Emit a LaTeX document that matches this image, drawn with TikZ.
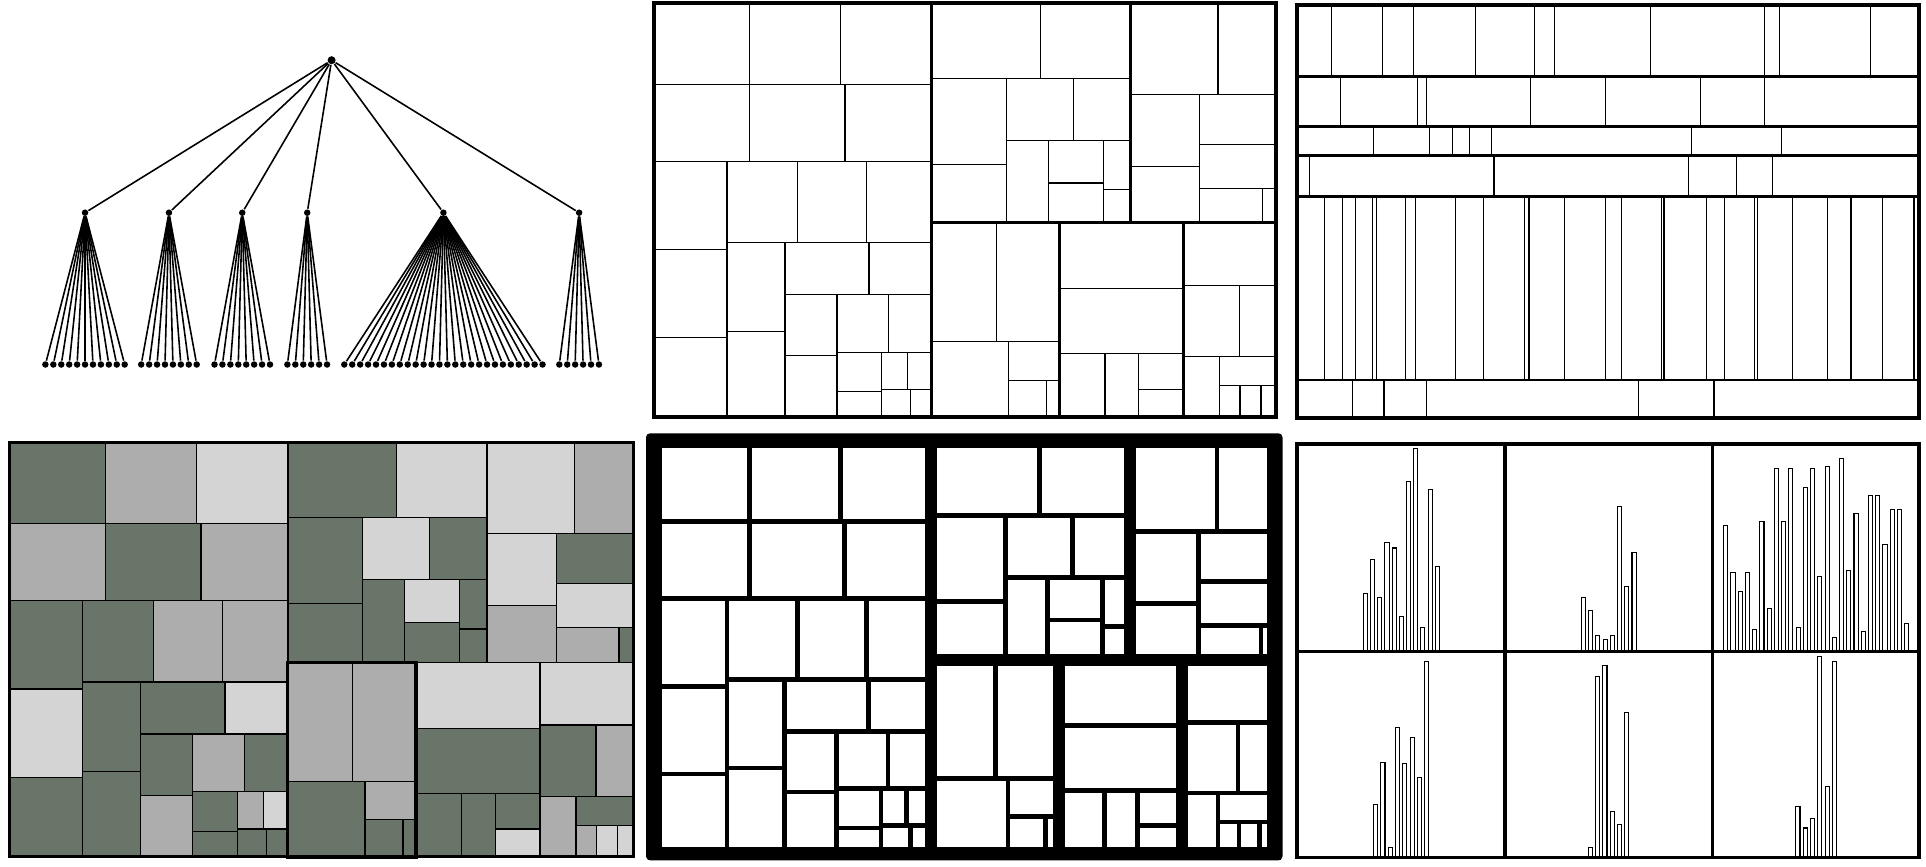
\documentclass[tikz,border=0pt]{standalone}
\usepackage{tikz}
\usetikzlibrary{calc}
\definecolor{tmdark}{HTML}{6A7569}
\definecolor{tmmid}{HTML}{ADADAD}
\definecolor{tmlight}{HTML}{D4D4D4}
% shared treemap layout, in percent of the box (x right, y down)
\newcommand\tmcells{0/0/15.35/19.6/tmdark, 15.35/0/30/19.6/tmmid, 30/0/44.65/19.6/tmlight,
  0/19.6/15.35/38.2/tmmid, 15.35/19.6/30.7/38.2/tmdark, 30.7/19.6/44.65/38.2/tmmid,
  0/38.2/11.75/59.5/tmdark, 0/59.5/11.75/80.75/tmlight, 0/80.75/11.75/100/tmdark,
  11.75/38.2/23.05/57.8/tmdark, 23.05/38.2/34.2/57.8/tmmid, 34.2/38.2/44.65/57.8/tmmid,
  11.75/57.8/21.05/79.3/tmdark, 11.75/79.3/21.05/100/tmdark,
  21.05/57.8/34.55/70.35/tmdark, 34.55/57.8/44.65/70.35/tmlight,
  21.05/70.35/29.4/85.1/tmdark, 21.05/85.1/29.4/100/tmmid,
  29.4/70.35/37.7/84.3/tmmid, 37.7/70.35/44.65/84.3/tmdark,
  29.4/84.3/36.55/93.8/tmdark, 29.4/93.8/36.55/100/tmdark,
  36.55/84.3/40.7/93.25/tmmid, 40.7/84.3/44.65/93.25/tmlight,
  36.55/93.25/41.25/100/tmdark, 41.25/93.25/44.65/100/tmdark,
  44.65/0/62.1/18.15/tmdark, 62.1/0/76.65/18.15/tmlight,
  44.65/18.15/56.65/38.95/tmdark, 44.65/38.95/56.65/53.1/tmdark,
  56.65/18.15/67.4/33.15/tmlight, 67.4/18.15/76.65/33.15/tmdark,
  56.65/33.15/63.4/53.1/tmdark, 63.4/33.15/72.2/43.45/tmlight, 63.4/43.45/72.2/53.1/tmdark,
  72.2/33.15/76.65/45/tmdark, 72.2/45/76.65/53.1/tmdark,
  76.65/0/90.65/22/tmlight, 90.65/0/100/22/tmmid,
  76.65/22/87.7/39.4/tmlight, 76.65/39.4/87.7/53.1/tmmid,
  87.7/22/100/34.1/tmdark, 87.7/34.1/100/44.7/tmlight,
  87.7/44.7/97.75/53.1/tmmid, 97.75/44.7/100/53.1/tmdark,
  44.65/53.1/55/81.8/tmmid, 55/53.1/65.2/81.8/tmmid, 44.65/81.8/57/100/tmdark,
  57/81.8/65.2/91.05/tmmid, 57/91.05/63.1/100/tmdark, 63.1/91.05/65.2/100/tmdark,
  65.2/53.1/85.1/69/tmlight, 65.2/69/85.1/84.65/tmdark,
  65.2/84.65/72.5/100/tmdark, 72.5/84.65/77.9/100/tmdark,
  77.9/84.65/85.1/93.25/tmdark, 77.9/93.25/85.1/100/tmlight,
  85.1/53.1/100/68.2/tmlight, 85.1/68.2/94.05/85.35/tmdark, 94.05/68.2/100/85.35/tmmid,
  85.1/85.35/90.85/100/tmmid, 90.85/85.35/100/92.35/tmdark,
  90.85/92.35/94.2/100/tmmid, 94.2/92.35/97.55/100/tmlight, 97.55/92.35/100/100/tmlight}
\newcommand\tmgroups{0/0/44.65/100, 44.65/0/76.65/53.1, 76.65/0/100/53.1,
  44.65/53.1/65.2/100, 65.2/53.1/85.1/100, 85.1/53.1/100/100}

\begin{document}
\begin{tikzpicture}[x=0.01cm,y=-0.01cm,
  dot/.style={circle,fill=black,inner sep=0pt,minimum size=0.65mm},
  edge/.style={line width=0.45pt},
  leafln/.style={line width=0.35pt},
  rowln/.style={line width=0.75pt},
  boldln/.style={line width=0.55pt},
  frameln/.style={line width=1.1pt},
  barln/.style={line width=0.3pt,fill=white}]
\path[use as bounding box] (0,0) rectangle (1926,866);
\fill[white] (0,0) rectangle (1926,866);

% tree: root, six children, leaves
\node[dot,minimum size=0.8mm] (root) at (331.6,60.2) {};
\foreach \s/\n [count=\g] in {45.4/11,141.2/8,214.5/8,287.4/6,344.3/26,559.3/6} {
  \node[dot] (c\g) at ({\s+(\n-1)*3.965},212.7) {};
  \draw[edge] (root) -- (c\g);
  \foreach \i in {1,...,\n} {
    \node[dot] (l\g-\i) at ({\s+(\i-1)*7.93},364.5) {};
    \draw[edge] (c\g) -- (l\g-\i);
  }
}

% top middle: plain treemap
\begin{scope}[shift={(654,3)},x=0.06218cm,y=-0.0414cm]
  \foreach \xa/\ya/\xb/\yb/\tone in \tmcells \draw[leafln] (\xa,\ya) rectangle (\xb,\yb);
  \foreach \xa/\ya/\xb/\yb in \tmgroups \draw[line width=0.85pt] (\xa,\ya) rectangle (\xb,\yb);
  \draw[frameln] (0,0) rectangle (100,100);
\end{scope}

% top right: slice and dice
\foreach \ya/\yb/\xs in {5/76.3/{1331.3,1382.3,1413.3,1475.3,1534.3,1554.3,1650.3,1764.3,1779.3,1870.3},
  76.3/126.3/{1340.3,1417.7,1426.3,1530.3,1605.3,1700.3,1764.3},
  126.3/155.7/{1373.3,1429.3,1452.3,1469.3,1491.3,1691.3,1781.3},
  155.7/196.3/{1309.3,1688.3,1736.3,1772.3},
  196.3/380/{1324.3,1342.3,1355.3,1372.3,1376.5,1405.3,1415.3,1455.3,1483.3,1524.7,1529,1564.3,1605.3,1621.3,1661.3,1664,1706.3,1724.3,1754.7,1757.7,1792.3,1827.3,1882.3,1914},
  380/418.3/{1352.3,1426.3,1638.3}}
  \foreach \x in \xs \draw[leafln] (\x,\ya) -- (\x,\yb);
\foreach \ya/\yb/\x in {155.7/196.3/1493.7,196.3/380/1851,380/418.3/1383.7,380/418.3/1714}
  \draw[boldln] (\x,\ya) -- (\x,\yb);
\foreach \y in {76.3,126.3,155.7,196.3,380} \draw[rowln] (1296.8,\y) -- (1919,\y);
\draw[frameln] (1296.8,5) rectangle (1919,418.3);

% bottom left: coloured treemap
\begin{scope}[shift={(9.5,442.3)},x=0.06232cm,y=-0.04144cm]
  \foreach \xa/\ya/\xb/\yb/\tone in \tmcells \fill[\tone] (\xa,\ya) rectangle (\xb,\yb);
  \foreach \xa/\ya/\xb/\yb/\tone in \tmcells \draw[leafln] (\xa,\ya) rectangle (\xb,\yb);
  \foreach \xa/\ya/\xb/\yb in \tmgroups \draw[boldln] (\xa,\ya) rectangle (\xb,\yb);
  \draw[line width=0.9pt] (44.65,53.1) rectangle (65.2,100);
  \draw[line width=0.85pt] (0,0) rectangle (100,100);
\end{scope}

% bottom middle: padded treemap
\fill[rounded corners=0.04cm] (646,433.3) rectangle (1282.5,860.3);
\fill[white] (662,448) rectangle (1267,846.5);
\begin{scope}[shift={(654,440.7)},x=0.06205cm,y=-0.04126cm]
  \foreach \xa/\ya/\xb/\yb/\tone in \tmcells \draw[line width=1.35pt] (\xa,\ya) rectangle (\xb,\yb);
  \foreach \xa/\ya/\xb/\yb in \tmgroups \draw[line width=3.4pt] (\xa,\ya) rectangle (\xb,\yb);
\end{scope}

% bottom right: bar charts
\foreach \xa/\p/\yb/\tops in {1363.4/7.18/651.7/{593.3,559.3,597.3,542.3,548,616.7,481.3,448.3,627.3,489.3,566.3},
  1581.3/7.245/651.7/{597.3,610.3,635.3,639.3,635.3,506.3,586.3,552.3},
  1723.7/7.238/651.7/{525.3,572.3,591.3,572.3,629.3,521.3,608.3,468.3,521.3,468.3,627.3,487.3,468.3,576.3,466.3,637.3,458.3,570.3,513.3,631.3,495.3,495.3,544.3,509.3,509.3,623.3},
  1373.6/7.3/857.7/{804.3,762.3,847.3,727.3,763.3,737.3,777.3,661.3},
  1588.6/7.14/857.7/{847.3,676.3,665.3,811.3,824.3,712.3},
  1795.9/7.3/857.7/{806.7,828,818.3,656.3,786.3,661.3}}
  \foreach \t [count=\i from 0] in \tops
    \draw[barln] ({\xa+\i*\p},\yb) rectangle ({\xa+\i*\p+4.1},\t);
\draw[line width=0.9pt] (1505,444) -- (1505,857.7) (1712.7,444) -- (1712.7,857.7)
  (1297,651.7) -- (1919,651.7);
\draw[line width=0.9pt] (1297,444) rectangle (1919,857.7);
\end{tikzpicture}
\end{document}
